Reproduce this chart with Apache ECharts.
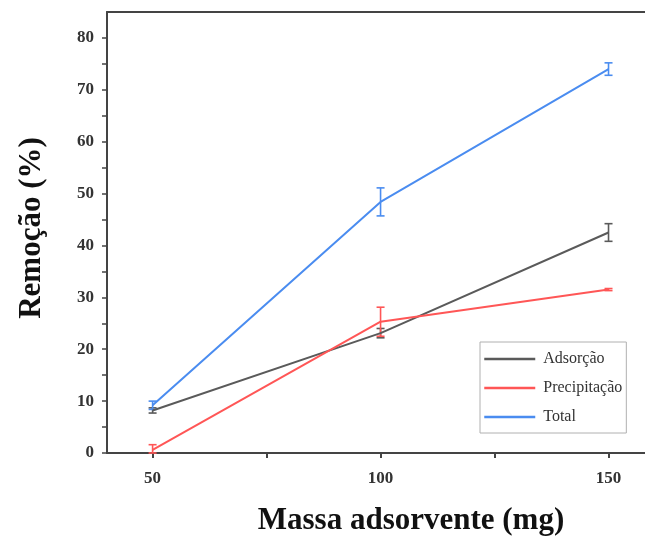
<!DOCTYPE html>
<html>
<head>
<meta charset="utf-8">
<script src="https://cdn.jsdelivr.net/npm/echarts@6/dist/echarts.min.js"></script>
<style>
  html, body { margin: 0; padding: 0; background: #fff; }
  #chart { width: 645px; height: 538px; }
</style>
</head>
<body>
<div id="chart"></div>
<script>
// Adsorbent mass (mg)
const massa = [50, 100, 150];

// Removal (%) and standard deviation per process
const adsorcao = [8.2, 23.1, 42.5];
const adsorcaoErr = [0.5, 0.9, 1.7];
const precipitacao = [0.6, 25.3, 31.5];
const precipitacaoErr = [1.0, 2.8, 0.2];
const total = [9.2, 48.4, 74.0];
const totalErr = [0.8, 2.7, 1.2];

const seriesNames = ['Adsorção', 'Precipitação', 'Total'];
const seriesColors = ['#5a5a5a', '#ff5656', '#4a8cf0'];
const xLabelValues = [50, 100, 150];
const xTickValues = [50, 75, 100, 125, 150];
const yLabelValues = [0, 10, 20, 30, 40, 50, 60, 70, 80];
const yTickValues = [0, 5, 10, 15, 20, 25, 30, 35, 40, 45, 50, 55, 60, 65, 70, 75, 80];

const values = [adsorcao, precipitacao, total];
const errors = [adsorcaoErr, precipitacaoErr, totalErr];

const serif = '"Liberation Serif", "Times New Roman", serif';
const axisColor = '#444';
const chart = echarts.init(document.getElementById('chart'), null, { renderer: 'canvas' });

// I-shaped error bars drawn through the axis scales
function errorBarSeries(idx) {
  const data = massa.map((m, i) => [m, values[idx][i] - errors[idx][i], values[idx][i] + errors[idx][i]]);
  return {
    type: 'custom',
    name: seriesNames[idx] + ' erro',
    data: data,
    z: 3,
    silent: true,
    renderItem: function (params, api) {
      const x = api.value(0);
      const lo = api.coord([x, Math.max(api.value(1), 0)]);
      const hi = api.coord([x, api.value(2)]);
      const hw = 4;
      const style = { stroke: seriesColors[idx], lineWidth: 1.6 };
      return {
        type: 'group',
        children: [
          { type: 'line', shape: { x1: lo[0], y1: lo[1], x2: hi[0], y2: hi[1] }, style: style },
          { type: 'line', shape: { x1: lo[0] - hw, y1: lo[1], x2: lo[0] + hw, y2: lo[1] }, style: style },
          { type: 'line', shape: { x1: hi[0] - hw, y1: hi[1], x2: hi[0] + hw, y2: hi[1] }, style: style }
        ]
      };
    }
  };
}

const lineSeries = values.map((vals, idx) => ({
  type: 'line',
  name: seriesNames[idx],
  data: massa.map((m, i) => [m, vals[i]]),
  symbol: 'none',
  lineStyle: { color: seriesColors[idx], width: 2 },
  itemStyle: { color: seriesColors[idx] },
  z: 4
}));

const option = {
  backgroundColor: '#fff',
  animation: false,
  grid: { left: 107, right: 0, top: 12, bottom: 85 },
  legend: {
    orient: 'vertical',
    left: 480,
    top: 342,
    data: seriesNames,
    itemWidth: 51,
    itemHeight: 14,
    itemGap: 13,
    padding: [9, 4, 8, 3],
    borderColor: '#b0b0b0',
    borderWidth: 1,
    itemStyle: { opacity: 0 },
    lineStyle: { width: 2.5 },
    textStyle: { fontFamily: serif, fontSize: 16, color: '#333', padding: [0, 0, 0, 3] }
  },
  xAxis: [
    {
      type: 'value',
      min: 40,
      max: 158,
      axisLine: { show: true, lineStyle: { color: axisColor, width: 2 } },
      axisTick: { show: true, customValues: xTickValues, length: 5, lineStyle: { color: axisColor, width: 2 } },
      axisLabel: {
        customValues: xLabelValues, margin: 17,
        fontFamily: serif, fontSize: 17, fontWeight: 'bold', color: '#333'
      },
      splitLine: { show: false }
    },
    {
      // top frame line
      type: 'value',
      position: 'top',
      min: 40,
      max: 158,
      axisLine: { show: true, lineStyle: { color: axisColor, width: 2 } },
      axisTick: { show: false },
      axisLabel: { show: false },
      splitLine: { show: false }
    }
  ],
  yAxis: {
    type: 'value',
    min: 0,
    max: 85,
    axisLine: { show: true, lineStyle: { color: axisColor, width: 2 } },
    axisTick: { show: true, customValues: yTickValues, length: 5, lineStyle: { color: axisColor, width: 1.5 } },
    axisLabel: {
      customValues: yLabelValues, margin: 13,
      fontFamily: serif, fontSize: 17, fontWeight: 'bold', color: '#333'
    },
    splitLine: { show: false }
  },
  graphic: [
    {
      type: 'text',
      x: 411, y: 521,
      style: {
        text: 'Massa adsorvente (mg)',
        font: 'bold 31px ' + serif,
        fill: '#111',
        textAlign: 'center',
        textVerticalAlign: 'middle'
      }
    },
    {
      type: 'text',
      x: 32, y: 228,
      rotation: Math.PI / 2,
      style: {
        text: 'Remoção (%)',
        font: 'bold 31px ' + serif,
        fill: '#111',
        textAlign: 'center',
        textVerticalAlign: 'middle'
      }
    }
  ],
  series: lineSeries.concat([0, 1, 2].map(errorBarSeries))
};

chart.setOption(option);
</script>
</body>
</html>
